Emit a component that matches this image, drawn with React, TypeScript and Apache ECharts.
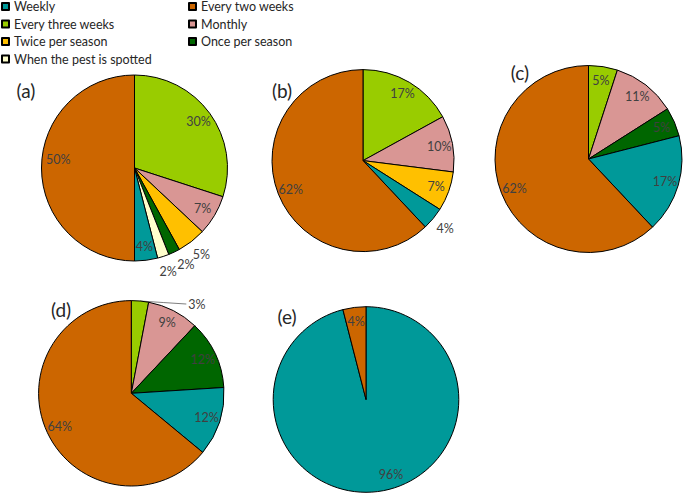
import React, { useEffect, useRef } from "react";
import * as echarts from "echarts";

const legendLeft = ["Weekly", "Every three weeks", "Twice per season", "When the pest is spotted"];
const legendRight = ["Every two weeks", "Monthly", "Once per season"];

const colorOf: Record<string, string> = {
  "Weekly": "#009999",
  "Every two weeks": "#CC6600",
  "Every three weeks": "#99CC00",
  "Monthly": "#D99694",
  "Twice per season": "#FFC000",
  "Once per season": "#006600",
  "When the pest is spotted": "#FFFFCC",
};

// (a)
const namesA = ["Every three weeks", "Monthly", "Twice per season", "Once per season", "When the pest is spotted", "Weekly", "Every two weeks"];
const valuesA = [30, 7, 5, 2, 2, 4, 50];
const placeA = ["in", "in", "out", "out", "out", "in", "in"];
// (b)
const namesB = ["Every three weeks", "Monthly", "Twice per season", "Weekly", "Every two weeks"];
const valuesB = [17, 10, 7, 4, 62];
const placeB = ["in", "in", "in", "out", "in"];
// (c)
const namesC = ["Every three weeks", "Monthly", "Once per season", "Weekly", "Every two weeks"];
const valuesC = [5, 11, 5, 17, 62];
const placeC = ["in", "in", "in", "in", "in"];
// (d)
const namesD = ["Every three weeks", "Monthly", "Once per season", "Weekly", "Every two weeks"];
const valuesD = [3, 9, 12, 12, 64];
const placeD = ["line", "in", "in", "in", "in"];
// (e)
const namesE = ["Weekly", "Every two weeks"];
const valuesE = [96, 4];
const placeE = ["in", "in"];

const panelLetters = ["(a)", "(b)", "(c)", "(d)", "(e)"];

const FONT = "Lato";

type PieSpec = { cx: number; cy: number; r: number; names: string[]; values: number[]; place: string[] };

const pies: PieSpec[] = [
  { cx: 134.5, cy: 168, r: 93, names: namesA, values: valuesA, place: placeA },
  { cx: 363, cy: 160.6, r: 91, names: namesB, values: valuesB, place: placeB },
  { cx: 588.5, cy: 159, r: 93.5, names: namesC, values: valuesC, place: placeC },
  { cx: 131.3, cy: 393.3, r: 92.7, names: namesD, values: valuesD, place: placeD },
  { cx: 366, cy: 399.5, r: 92.8, names: namesE, values: valuesE, place: placeE },
];

// small label nudges (pie index -> slice name -> [dx, dy])
const labelNudges: Record<number, Record<string, [number, number]>> = {
  0: { "Every two weeks": [3, -9], "Once per season": [5, -2] },
  4: { "Weekly": [15, -3] },
};
const leaderDrop = 6;

const letterPos = [
  [26, 90],
  [282, 90],
  [520, 72],
  [61, 309],
  [287, 316],
];

const labelText = { fontFamily: FONT, fontSize: 12.5, color: "#404040" };

function buildMain(p: PieSpec) {
  const hasLine = p.place.indexOf("line") >= 0;
  return {
    type: "pie",
    center: [p.cx, p.cy],
    radius: p.r,
    startAngle: 90,
    clockwise: true,
    avoidLabelOverlap: false,
    emphasis: { disabled: true },
    labelLayout: hasLine
      ? (params: any) => {
          const pts = params.labelLinePoints;
          if (!pts || pts.length < 3) return { dy: leaderDrop, hideOverlap: false };
          const p0 = pts[0];
          const p2 = [pts[2][0], pts[2][1] + leaderDrop];
          const p1 = [(p0[0] + p2[0]) / 2, (p0[1] + p2[1]) / 2];
          return { dy: leaderDrop, hideOverlap: false, labelLinePoints: [p0, p1, p2] };
        }
      : { hideOverlap: false },
    data: p.names.map((n, i) => ({
      name: n,
      value: p.values[i],
      itemStyle: { color: colorOf[n], borderColor: "#000", borderWidth: 1 },
      label:
        p.place[i] === "line"
          ? { show: true, position: "outside", formatter: "{c}%", ...labelText, distanceToLabelLine: 2 }
          : { show: false },
      labelLine:
        p.place[i] === "line"
          ? { show: true, length: 3, length2: 46, lineStyle: { color: "#7f7f7f", width: 1 } }
          : { show: false },
    })),
  };
}

function buildLabels(p: PieSpec, pi: number, which: string, r0: number, r1: number) {
  const nudges = labelNudges[pi] || {};
  return {
    type: "pie",
    center: [p.cx, p.cy],
    radius: [r0, r1],
    startAngle: 90,
    clockwise: true,
    silent: true,
    avoidLabelOverlap: false,
    emphasis: { disabled: true },
    labelLine: { show: false },
    labelLayout: (params: any) => {
      const nd = nudges[p.names[params.dataIndex]];
      return nd ? { dx: nd[0], dy: nd[1], hideOverlap: false } : { hideOverlap: false };
    },
    data: p.names.map((n, i) => ({
      name: n,
      value: p.values[i],
      itemStyle: { color: "rgba(0,0,0,0)", borderWidth: 0 },
      label: { show: p.place[i] === which, position: "inside", formatter: "{c}%", ...labelText },
    })),
  };
}

export default function App() {
  const ref = useRef<HTMLDivElement>(null);
  useEffect(() => {
    document.body.style.margin = "0";
    const chart = echarts.init(ref.current!, undefined, { renderer: "svg" });
    const series: any[] = [];
    pies.forEach((p) => series.push(buildMain(p)));
    pies.forEach((p, pi) => {
      series.push(buildLabels(p, pi, "in", p.r * 0.64, p.r));
      series.push(buildLabels(p, pi, "out", p.r, p.r * 1.28));
    });
    const legendCommon = {
      orient: "vertical",
      top: -1,
      padding: 0,
      itemGap: 2.5,
      itemWidth: 7,
      itemHeight: 7,
      icon: "rect",
      selectedMode: false,
      textStyle: { fontFamily: FONT, fontSize: 12.5, color: "#262626", lineHeight: 15 },
    };
    chart.setOption({
      animation: false,
      backgroundColor: "#ffffff",
      legend: [
        { ...legendCommon, left: 1, data: legendLeft },
        { ...legendCommon, left: 188, data: legendRight },
      ],
      graphic: panelLetters.map((t, i) => ({
        type: "text",
        x: letterPos[i][0],
        y: letterPos[i][1],
        style: { text: t, fontFamily: FONT, fontSize: 19, fill: "#262626", align: "center", verticalAlign: "middle" },
      })),
      series,
    });
    return () => chart.dispose();
  }, []);
  return <div ref={ref} style={{ position: "absolute", left: 0, top: 0, width: 685, height: 494 }} />;
}
